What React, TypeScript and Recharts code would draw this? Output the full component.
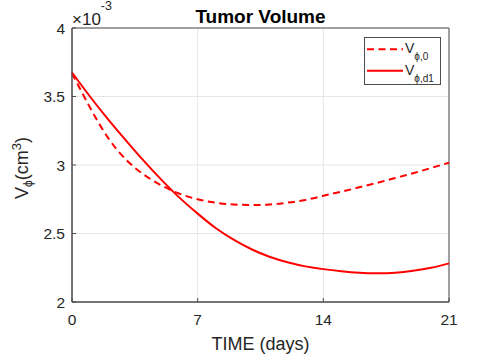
import React from 'react';
import { LineChart, Line, XAxis, YAxis, CartesianGrid, Label, ReferenceArea } from 'recharts';

// Time (days)
const days = [0, 1, 2, 3, 4, 5, 6, 7, 8, 9, 10, 11, 12, 13, 14, 15, 16, 17, 18, 19, 20, 21];
// Tumor volume (x 10^-3 cm^3)
const vPhi0 = [3.67, 3.42, 3.2, 3.04, 2.93, 2.85, 2.79, 2.75, 2.725, 2.712, 2.708, 2.712, 2.725, 2.745, 2.775, 2.805, 2.837, 2.87, 2.905, 2.94, 2.978, 3.017];
const vPhiD1 = [3.675, 3.5, 3.335, 3.18, 3.03, 2.89, 2.76, 2.645, 2.54, 2.455, 2.385, 2.33, 2.29, 2.26, 2.24, 2.225, 2.214, 2.21, 2.214, 2.228, 2.25, 2.282];

const xTicks = [0, 7, 14, 21];
const yTicks = [2, 2.5, 3, 3.5, 4];
const seriesSubs = ['\u03D5,0', '\u03D5,d1'];
const titleText = 'Tumor Volume';
const xLabelText = 'TIME (days)';
const exponentText = '-3';

const data = days.map((d, i) => ({ day: d, v0: vPhi0[i], vd1: vPhiD1[i] }));

const FONT = '"Liberation Sans", Arial, Helvetica, sans-serif';
const TXT = '#262626';
const AX = '#4d4d4d';
const RED = '#ff0000';

const XLabel = (props: any) => {
  const vb = props.viewBox || {};
  return (
    <text x={vb.x + vb.width / 2} y={vb.y + 48} textAnchor="middle" fontSize={18} fill={TXT} fontFamily={FONT}>
      {xLabelText}
    </text>
  );
};

const YLabel = (props: any) => {
  const vb = props.viewBox || {};
  const cx = 28;
  const cy = vb.y + vb.height / 2 + 3;
  return (
    <text transform={`rotate(-90 ${cx} ${cy})`} x={cx} y={cy} textAnchor="middle" fontSize={18} fill={TXT} fontFamily={FONT}>
      V
      <tspan fontSize={12} dy={4}>{'\u03D5'}</tspan>
      <tspan dy={-4}>(cm</tspan>
      <tspan fontSize={13} dy={-7}>3</tspan>
      <tspan dy={7}>)</tspan>
    </text>
  );
};

const TopOverlay = () => (
  <svg width={496} height={30} style={{ position: 'absolute', left: 0, top: 0, pointerEvents: 'none' }}>
    <text x={260.5} y={23} textAnchor="middle" fontSize={19} fontWeight="bold" fill="#000" fontFamily={FONT}>
      {titleText}
    </text>
    <text x={72} y={25} textAnchor="start" fontSize={17} fill={TXT} fontFamily={FONT}>
      {'\u00D710'}
      <tspan fontSize={12.5} dy={-15.5}>{exponentText}</tspan>
    </text>
  </svg>
);

const LegendBox = () => (
  <div style={{ position: 'absolute', left: 364, top: 37 }}>
    <svg width={77} height={48} style={{ display: 'block' }}>
      <rect x={0.5} y={0.5} width={76} height={47} fill="#fff" stroke={AX} strokeWidth={1} />
      <line x1={3} x2={39} y1={12.3} y2={12.3} stroke={RED} strokeWidth={2} strokeDasharray="7 4.5" />
      <line x1={3} x2={39} y1={33.7} y2={33.7} stroke={RED} strokeWidth={2} />
      {seriesSubs.map((s, i) => (
        <text key={s} x={41} y={16.3 + i * 21.7} fontSize={14} fill={TXT} fontFamily={FONT}>
          V
          <tspan fontSize={10} dy={7}>{s}</tspan>
        </text>
      ))}
    </svg>
  </div>
);

export default function App() {
  return (
    <div style={{ position: 'absolute', left: 0, top: 0, width: 496, height: 354, background: '#fff', fontFamily: FONT }}>
      <LineChart width={496} height={354} data={data} margin={{ top: 28, right: 47, bottom: 0, left: 0 }}>
        <CartesianGrid stroke="#e6e6e6" strokeWidth={1} />
        <XAxis
          dataKey="day"
          type="number"
          domain={[0, 21]}
          ticks={xTicks}
          height={52}
          tickSize={-4}
          tickMargin={16}
          tick={{ fontSize: 15.5, fill: TXT, fontFamily: FONT }}
          stroke={AX}
          axisLine={{ stroke: AX, strokeWidth: 1 }}
          tickLine={{ stroke: AX }}
        >
          <Label content={XLabel} />
        </XAxis>
        <YAxis
          type="number"
          domain={[2, 4]}
          ticks={yTicks}
          width={72}
          tickSize={-4}
          tickMargin={11}
          tick={{ fontSize: 15.5, fill: TXT, fontFamily: FONT }}
          axisLine={{ stroke: AX, strokeWidth: 1 }}
          tickLine={{ stroke: AX }}
        >
          <Label content={YLabel} />
        </YAxis>
        <ReferenceArea x1={0} x2={21} y1={2} y2={4} fill="none" fillOpacity={0} stroke={AX} strokeWidth={1} strokeOpacity={1} ifOverflow="visible" />
        <Line type="natural" dataKey="v0" stroke={RED} strokeWidth={2} strokeDasharray="7 4.5" dot={false} activeDot={false} isAnimationActive={false} />
        <Line type="natural" dataKey="vd1" stroke={RED} strokeWidth={2} dot={false} activeDot={false} isAnimationActive={false} />
      </LineChart>
      <TopOverlay />
      <LegendBox />
    </div>
  );
}
